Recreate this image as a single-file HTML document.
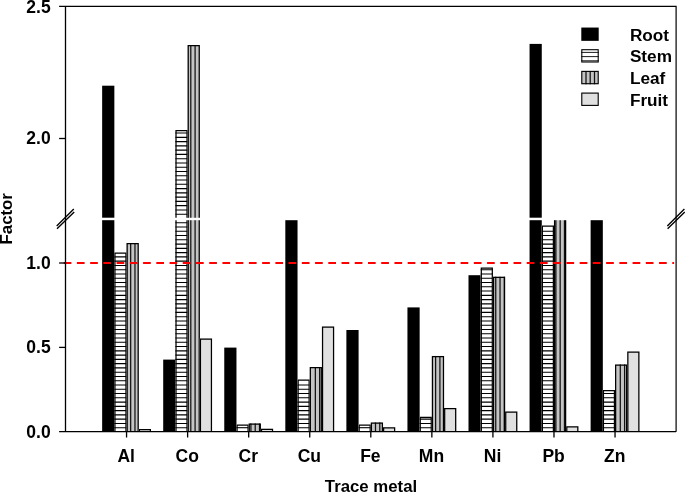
<!DOCTYPE html>
<html lang="en"><head><meta charset="utf-8"><title>Trace metal factor chart</title>
<style>html,body{margin:0;padding:0;background:#fff;}body{width:685px;height:493px;overflow:hidden;}svg{display:block;}text{font-family:"Liberation Sans",Arial,Helvetica,sans-serif;font-weight:bold;font-size:16.8px;fill:#000;}</style></head><body>
<svg width="685" height="493" viewBox="0 0 685 493">
<rect x="0" y="0" width="685" height="493" fill="#fff"/>
<rect x="102.14" y="220.20" width="12.21" height="211.50" fill="#000"/>
<rect x="102.14" y="85.70" width="12.21" height="132.00" fill="#000"/>
<rect x="114.35" y="252.40" width="12.21" height="179.30" fill="#fff"/>
<path d="M114.35 427.70H126.56M114.35 423.43H126.56M114.35 419.16H126.56M114.35 414.89H126.56M114.35 410.62H126.56M114.35 406.35H126.56M114.35 402.08H126.56M114.35 397.81H126.56M114.35 393.54H126.56M114.35 389.27H126.56M114.35 385.00H126.56M114.35 380.73H126.56M114.35 376.46H126.56M114.35 372.19H126.56M114.35 367.92H126.56M114.35 363.65H126.56M114.35 359.38H126.56M114.35 355.11H126.56M114.35 350.84H126.56M114.35 346.57H126.56M114.35 342.30H126.56M114.35 338.03H126.56M114.35 333.76H126.56M114.35 329.49H126.56M114.35 325.22H126.56M114.35 320.95H126.56M114.35 316.68H126.56M114.35 312.41H126.56M114.35 308.14H126.56M114.35 303.87H126.56M114.35 299.60H126.56M114.35 295.33H126.56M114.35 291.06H126.56M114.35 286.79H126.56M114.35 282.52H126.56M114.35 278.25H126.56M114.35 273.98H126.56M114.35 269.71H126.56M114.35 265.44H126.56M114.35 261.17H126.56M114.35 256.90H126.56" stroke="#000" stroke-width="1.1" fill="none"/>
<path d="M114.95 431.70V253.00H125.96V431.70" stroke="#000" stroke-width="1.25" fill="none"/>
<rect x="126.56" y="243.00" width="12.21" height="188.70" fill="#c4c4c4"/>
<path d="M130.67 243.00V431.70M134.97 243.00V431.70" stroke="#111" stroke-width="1.25" fill="none"/>
<path d="M127.16 431.70V243.60H138.17V431.70" stroke="#000" stroke-width="1.25" fill="none"/>
<rect x="138.77" y="429.00" width="12.21" height="2.70" fill="#e0e0e0"/>
<path d="M139.37 431.70V429.60H150.38V431.70" stroke="#000" stroke-width="1.25" fill="none"/>
<rect x="163.20" y="359.60" width="12.21" height="72.10" fill="#000"/>
<rect x="175.41" y="220.20" width="12.21" height="211.50" fill="#fff"/>
<path d="M175.41 427.70H187.62M175.41 423.43H187.62M175.41 419.16H187.62M175.41 414.89H187.62M175.41 410.62H187.62M175.41 406.35H187.62M175.41 402.08H187.62M175.41 397.81H187.62M175.41 393.54H187.62M175.41 389.27H187.62M175.41 385.00H187.62M175.41 380.73H187.62M175.41 376.46H187.62M175.41 372.19H187.62M175.41 367.92H187.62M175.41 363.65H187.62M175.41 359.38H187.62M175.41 355.11H187.62M175.41 350.84H187.62M175.41 346.57H187.62M175.41 342.30H187.62M175.41 338.03H187.62M175.41 333.76H187.62M175.41 329.49H187.62M175.41 325.22H187.62M175.41 320.95H187.62M175.41 316.68H187.62M175.41 312.41H187.62M175.41 308.14H187.62M175.41 303.87H187.62M175.41 299.60H187.62M175.41 295.33H187.62M175.41 291.06H187.62M175.41 286.79H187.62M175.41 282.52H187.62M175.41 278.25H187.62M175.41 273.98H187.62M175.41 269.71H187.62M175.41 265.44H187.62M175.41 261.17H187.62M175.41 256.90H187.62M175.41 252.63H187.62M175.41 248.36H187.62M175.41 244.09H187.62M175.41 239.82H187.62M175.41 235.55H187.62M175.41 231.28H187.62M175.41 227.01H187.62M175.41 222.74H187.62" stroke="#000" stroke-width="1.1" fill="none"/>
<path d="M176.01 431.70V220.20M187.02 220.20V431.70" stroke="#000" stroke-width="1.25" fill="none"/>
<rect x="175.41" y="130.10" width="12.21" height="87.60" fill="#fff"/>
<path d="M175.41 214.20H187.62M175.41 209.93H187.62M175.41 205.66H187.62M175.41 201.39H187.62M175.41 197.12H187.62M175.41 192.85H187.62M175.41 188.58H187.62M175.41 184.31H187.62M175.41 180.04H187.62M175.41 175.77H187.62M175.41 171.50H187.62M175.41 167.23H187.62M175.41 162.96H187.62M175.41 158.69H187.62M175.41 154.42H187.62M175.41 150.15H187.62M175.41 145.88H187.62M175.41 141.61H187.62M175.41 137.34H187.62M175.41 133.07H187.62" stroke="#000" stroke-width="1.1" fill="none"/>
<path d="M176.01 217.70V130.70H187.02V217.70" stroke="#000" stroke-width="1.25" fill="none"/>
<rect x="187.62" y="220.20" width="12.21" height="211.50" fill="#c4c4c4"/>
<path d="M190.80 220.20V431.70M195.09 220.20V431.70" stroke="#111" stroke-width="1.25" fill="none"/>
<path d="M188.22 431.70V220.20M199.23 220.20V431.70" stroke="#000" stroke-width="1.25" fill="none"/>
<rect x="187.62" y="45.00" width="12.21" height="172.70" fill="#c4c4c4"/>
<path d="M190.80 45.00V217.70M195.09 45.00V217.70" stroke="#111" stroke-width="1.25" fill="none"/>
<path d="M188.22 217.70V45.60H199.23V217.70" stroke="#000" stroke-width="1.25" fill="none"/>
<rect x="199.83" y="338.40" width="12.21" height="93.30" fill="#e0e0e0"/>
<path d="M200.43 431.70V339.00H211.44V431.70" stroke="#000" stroke-width="1.25" fill="none"/>
<rect x="224.26" y="347.60" width="12.21" height="84.10" fill="#000"/>
<rect x="236.47" y="424.40" width="12.21" height="7.30" fill="#fff"/>
<path d="M236.47 427.70H248.68" stroke="#000" stroke-width="1.1" fill="none"/>
<path d="M237.07 431.70V425.00H248.08V431.70" stroke="#000" stroke-width="1.25" fill="none"/>
<rect x="248.68" y="423.50" width="12.21" height="8.20" fill="#c4c4c4"/>
<path d="M250.93 423.50V431.70M255.22 423.50V431.70M259.52 423.50V431.70" stroke="#111" stroke-width="1.25" fill="none"/>
<path d="M249.28 431.70V424.10H260.29V431.70" stroke="#000" stroke-width="1.25" fill="none"/>
<rect x="260.89" y="428.70" width="12.21" height="3.00" fill="#e0e0e0"/>
<path d="M261.49 431.70V429.30H272.50V431.70" stroke="#000" stroke-width="1.25" fill="none"/>
<rect x="285.32" y="220.20" width="12.21" height="211.50" fill="#000"/>
<rect x="297.53" y="379.60" width="12.21" height="52.10" fill="#fff"/>
<path d="M297.53 427.70H309.74M297.53 423.43H309.74M297.53 419.16H309.74M297.53 414.89H309.74M297.53 410.62H309.74M297.53 406.35H309.74M297.53 402.08H309.74M297.53 397.81H309.74M297.53 393.54H309.74M297.53 389.27H309.74M297.53 385.00H309.74" stroke="#000" stroke-width="1.1" fill="none"/>
<path d="M298.13 431.70V380.20H309.14V431.70" stroke="#000" stroke-width="1.25" fill="none"/>
<rect x="309.74" y="367.00" width="12.21" height="64.70" fill="#c4c4c4"/>
<path d="M315.35 367.00V431.70M319.65 367.00V431.70" stroke="#111" stroke-width="1.25" fill="none"/>
<path d="M310.34 431.70V367.60H321.35V431.70" stroke="#000" stroke-width="1.25" fill="none"/>
<rect x="321.95" y="326.40" width="12.21" height="105.30" fill="#e0e0e0"/>
<path d="M322.55 431.70V327.00H333.56V431.70" stroke="#000" stroke-width="1.25" fill="none"/>
<rect x="346.38" y="330.00" width="12.21" height="101.70" fill="#000"/>
<rect x="358.59" y="424.40" width="12.21" height="7.30" fill="#fff"/>
<path d="M358.59 427.70H370.80" stroke="#000" stroke-width="1.1" fill="none"/>
<path d="M359.19 431.70V425.00H370.20V431.70" stroke="#000" stroke-width="1.25" fill="none"/>
<rect x="370.80" y="422.50" width="12.21" height="9.20" fill="#c4c4c4"/>
<path d="M375.49 422.50V431.70M379.78 422.50V431.70" stroke="#111" stroke-width="1.25" fill="none"/>
<path d="M371.40 431.70V423.10H382.41V431.70" stroke="#000" stroke-width="1.25" fill="none"/>
<rect x="383.01" y="427.30" width="12.21" height="4.40" fill="#e0e0e0"/>
<path d="M383.61 431.70V427.90H394.62V431.70" stroke="#000" stroke-width="1.25" fill="none"/>
<rect x="407.44" y="307.40" width="12.21" height="124.30" fill="#000"/>
<rect x="419.65" y="416.80" width="12.21" height="14.90" fill="#fff"/>
<path d="M419.65 427.70H431.86M419.65 423.43H431.86M419.65 419.16H431.86" stroke="#000" stroke-width="1.1" fill="none"/>
<path d="M420.25 431.70V417.40H431.26V431.70" stroke="#000" stroke-width="1.25" fill="none"/>
<rect x="431.86" y="355.90" width="12.21" height="75.80" fill="#c4c4c4"/>
<path d="M435.62 355.90V431.70M439.91 355.90V431.70" stroke="#111" stroke-width="1.25" fill="none"/>
<path d="M432.46 431.70V356.50H443.47V431.70" stroke="#000" stroke-width="1.25" fill="none"/>
<rect x="444.07" y="407.90" width="12.21" height="23.80" fill="#e0e0e0"/>
<path d="M444.67 431.70V408.50H455.68V431.70" stroke="#000" stroke-width="1.25" fill="none"/>
<rect x="468.50" y="275.20" width="12.21" height="156.50" fill="#000"/>
<rect x="480.71" y="267.40" width="12.21" height="164.30" fill="#fff"/>
<path d="M480.71 427.70H492.92M480.71 423.43H492.92M480.71 419.16H492.92M480.71 414.89H492.92M480.71 410.62H492.92M480.71 406.35H492.92M480.71 402.08H492.92M480.71 397.81H492.92M480.71 393.54H492.92M480.71 389.27H492.92M480.71 385.00H492.92M480.71 380.73H492.92M480.71 376.46H492.92M480.71 372.19H492.92M480.71 367.92H492.92M480.71 363.65H492.92M480.71 359.38H492.92M480.71 355.11H492.92M480.71 350.84H492.92M480.71 346.57H492.92M480.71 342.30H492.92M480.71 338.03H492.92M480.71 333.76H492.92M480.71 329.49H492.92M480.71 325.22H492.92M480.71 320.95H492.92M480.71 316.68H492.92M480.71 312.41H492.92M480.71 308.14H492.92M480.71 303.87H492.92M480.71 299.60H492.92M480.71 295.33H492.92M480.71 291.06H492.92M480.71 286.79H492.92M480.71 282.52H492.92M480.71 278.25H492.92M480.71 273.98H492.92M480.71 269.71H492.92" stroke="#000" stroke-width="1.1" fill="none"/>
<path d="M481.31 431.70V268.00H492.32V431.70" stroke="#000" stroke-width="1.25" fill="none"/>
<rect x="492.92" y="276.70" width="12.21" height="155.00" fill="#c4c4c4"/>
<path d="M495.75 276.70V431.70M500.04 276.70V431.70M504.33 276.70V431.70" stroke="#111" stroke-width="1.25" fill="none"/>
<path d="M493.52 431.70V277.30H504.53V431.70" stroke="#000" stroke-width="1.25" fill="none"/>
<rect x="505.13" y="411.50" width="12.21" height="20.20" fill="#e0e0e0"/>
<path d="M505.73 431.70V412.10H516.74V431.70" stroke="#000" stroke-width="1.25" fill="none"/>
<rect x="529.56" y="220.20" width="12.21" height="211.50" fill="#000"/>
<rect x="529.56" y="43.90" width="12.21" height="173.80" fill="#000"/>
<rect x="541.77" y="225.40" width="12.21" height="206.30" fill="#fff"/>
<path d="M541.77 427.70H553.98M541.77 423.43H553.98M541.77 419.16H553.98M541.77 414.89H553.98M541.77 410.62H553.98M541.77 406.35H553.98M541.77 402.08H553.98M541.77 397.81H553.98M541.77 393.54H553.98M541.77 389.27H553.98M541.77 385.00H553.98M541.77 380.73H553.98M541.77 376.46H553.98M541.77 372.19H553.98M541.77 367.92H553.98M541.77 363.65H553.98M541.77 359.38H553.98M541.77 355.11H553.98M541.77 350.84H553.98M541.77 346.57H553.98M541.77 342.30H553.98M541.77 338.03H553.98M541.77 333.76H553.98M541.77 329.49H553.98M541.77 325.22H553.98M541.77 320.95H553.98M541.77 316.68H553.98M541.77 312.41H553.98M541.77 308.14H553.98M541.77 303.87H553.98M541.77 299.60H553.98M541.77 295.33H553.98M541.77 291.06H553.98M541.77 286.79H553.98M541.77 282.52H553.98M541.77 278.25H553.98M541.77 273.98H553.98M541.77 269.71H553.98M541.77 265.44H553.98M541.77 261.17H553.98M541.77 256.90H553.98M541.77 252.63H553.98M541.77 248.36H553.98M541.77 244.09H553.98M541.77 239.82H553.98M541.77 235.55H553.98M541.77 231.28H553.98" stroke="#000" stroke-width="1.1" fill="none"/>
<path d="M542.37 431.70V226.00H553.38V431.70" stroke="#000" stroke-width="1.25" fill="none"/>
<rect x="553.98" y="220.20" width="12.21" height="211.50" fill="#c4c4c4"/>
<path d="M555.88 220.20V431.70M560.17 220.20V431.70M564.47 220.20V431.70" stroke="#111" stroke-width="1.25" fill="none"/>
<path d="M554.58 431.70V220.20M565.59 220.20V431.70" stroke="#000" stroke-width="1.25" fill="none"/>
<rect x="566.19" y="426.30" width="12.21" height="5.40" fill="#e0e0e0"/>
<path d="M566.79 431.70V426.90H577.80V431.70" stroke="#000" stroke-width="1.25" fill="none"/>
<rect x="590.62" y="220.20" width="12.21" height="211.50" fill="#000"/>
<rect x="602.83" y="390.00" width="12.21" height="41.70" fill="#fff"/>
<path d="M602.83 427.70H615.04M602.83 423.43H615.04M602.83 419.16H615.04M602.83 414.89H615.04M602.83 410.62H615.04M602.83 406.35H615.04M602.83 402.08H615.04M602.83 397.81H615.04M602.83 393.54H615.04" stroke="#000" stroke-width="1.1" fill="none"/>
<path d="M603.43 431.70V390.60H614.44V431.70" stroke="#000" stroke-width="1.25" fill="none"/>
<rect x="615.04" y="364.60" width="12.21" height="67.10" fill="#c4c4c4"/>
<path d="M620.30 364.60V431.70M624.60 364.60V431.70" stroke="#111" stroke-width="1.25" fill="none"/>
<path d="M615.64 431.70V365.20H626.65V431.70" stroke="#000" stroke-width="1.25" fill="none"/>
<rect x="627.25" y="351.60" width="12.21" height="80.10" fill="#e0e0e0"/>
<path d="M627.85 431.70V352.20H638.86V431.70" stroke="#000" stroke-width="1.25" fill="none"/>
<path d="M63.7 263H674.1" stroke="#ff0000" stroke-width="2" stroke-dasharray="7.7 5.53" fill="none"/>
<path d="M59.10 431.70H676.10" stroke="#000" stroke-width="1.3" fill="none"/>
<path d="M59.10 6.45H676.60" stroke="#000" stroke-width="1.3" fill="none"/>
<path d="M65.50 6.45V431.70" stroke="#000" stroke-width="1.3" fill="none"/>
<path d="M676.10 6.45V431.70" stroke="#000" stroke-width="1.2" fill="none"/>
<path d="M59.10 138.50H65.50" stroke="#000" stroke-width="1.3" fill="none"/>
<path d="M59.10 263.00H65.50" stroke="#000" stroke-width="1.3" fill="none"/>
<path d="M59.10 347.40H65.50" stroke="#000" stroke-width="1.3" fill="none"/>
<path d="M126.56 431.70V437.50M187.62 431.70V437.50M248.68 431.70V437.50M309.74 431.70V437.50M370.80 431.70V437.50M431.86 431.70V437.50M492.92 431.70V437.50M553.98 431.70V437.50M615.04 431.70V437.50" stroke="#000" stroke-width="1.3" fill="none"/>
<path d="M56.70 225.9L73.80 209.1M57.00 228.8L74.20 212" stroke="#000" stroke-width="1.35" fill="none"/>
<path d="M667.30 225.9L684.40 209.1M667.60 228.8L684.80 212" stroke="#000" stroke-width="1.35" fill="none"/>
<text x="50.7" y="12.70" text-anchor="end" style="font-size:17.5px">2.5</text>
<text x="50.7" y="144.40" text-anchor="end" style="font-size:17.5px">2.0</text>
<text x="50.7" y="269.00" text-anchor="end" style="font-size:17.5px">1.0</text>
<text x="50.7" y="353.30" text-anchor="end" style="font-size:17.5px">0.5</text>
<text x="50.7" y="437.70" text-anchor="end" style="font-size:17.5px">0.0</text>
<text x="126.16" y="462.1" text-anchor="middle" style="font-size:17.5px">Al</text>
<text x="187.22" y="462.1" text-anchor="middle" style="font-size:17.5px">Co</text>
<text x="248.28" y="462.1" text-anchor="middle" style="font-size:17.5px">Cr</text>
<text x="309.34" y="462.1" text-anchor="middle" style="font-size:17.5px">Cu</text>
<text x="370.40" y="462.1" text-anchor="middle" style="font-size:17.5px">Fe</text>
<text x="431.46" y="462.1" text-anchor="middle" style="font-size:17.5px">Mn</text>
<text x="492.52" y="462.1" text-anchor="middle" style="font-size:17.5px">Ni</text>
<text x="553.58" y="462.1" text-anchor="middle" style="font-size:17.5px">Pb</text>
<text x="614.64" y="462.1" text-anchor="middle" style="font-size:17.5px">Zn</text>
<text x="371" y="492.3" text-anchor="middle">Trace metal</text>
<text transform="translate(12.4 218.8) rotate(-90)" text-anchor="middle">Factor</text>
<rect x="581.30" y="27.55" width="17.40" height="13.30" fill="#000"/>
<text x="629.9" y="40.50" style="font-size:17.2px">Root</text>
<rect x="581.30" y="49.20" width="17.40" height="13.30" fill="#fff"/>
<path d="M581.30 52.40H598.70M581.30 56.60H598.70M581.30 60.80H598.70" stroke="#111" stroke-width="0.95" fill="none"/>
<rect x="581.80" y="49.70" width="16.40" height="12.30" fill="none" stroke="#000" stroke-width="1.1"/>
<text x="629.9" y="62.10" style="font-size:17.2px">Stem</text>
<rect x="581.30" y="70.90" width="17.40" height="13.30" fill="#c4c4c4"/>
<path d="M586.00 70.90V84.20M590.20 70.90V84.20M594.50 70.90V84.20" stroke="#111" stroke-width="1.25" fill="none"/>
<rect x="581.80" y="71.40" width="16.40" height="12.30" fill="none" stroke="#000" stroke-width="1.1"/>
<text x="629.9" y="83.80" style="font-size:17.2px">Leaf</text>
<rect x="581.30" y="92.60" width="17.40" height="13.30" fill="#e0e0e0"/>
<rect x="581.80" y="93.10" width="16.40" height="12.30" fill="none" stroke="#000" stroke-width="1.1"/>
<text x="629.9" y="105.60" style="font-size:17.2px">Fruit</text>
</svg></body></html>
